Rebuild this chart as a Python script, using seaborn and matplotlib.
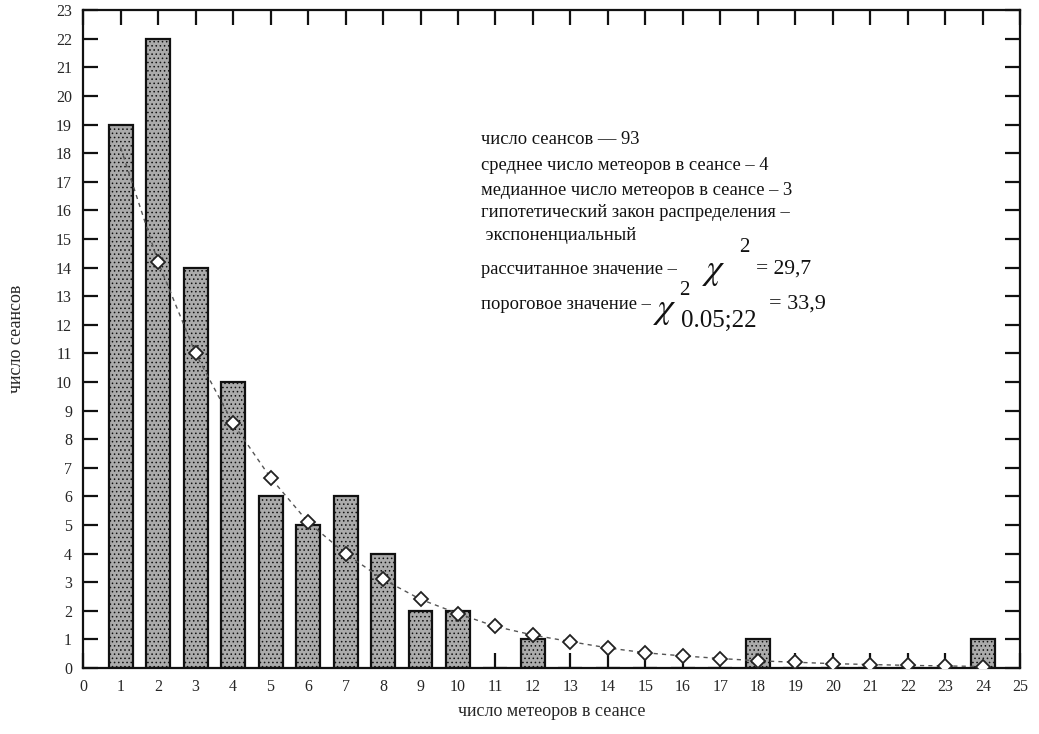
import numpy as np
import pandas as pd
import matplotlib
matplotlib.use("Agg")
import matplotlib.pyplot as plt
import seaborn as sns

# Observed sessions per meteor count
meteors = list(range(1, 25))
sessions = [19, 22, 14, 10, 6, 5, 6, 4, 2, 2, 0, 1, 0, 0, 0, 0, 0, 1, 0, 0, 0, 0, 0, 1]
# Expected counts under the exponential law
expected = [18.2, 14.2, 11.0, 8.55, 6.65, 5.1, 4.0, 3.1, 2.4, 1.9, 1.45, 1.15,
            0.92, 0.7, 0.53, 0.42, 0.33, 0.25, 0.2, 0.15, 0.12, 0.09, 0.07, 0.05]

x_ticks = list(range(0, 26))
y_ticks = list(range(0, 24))

info_lines = [
    "число сеансов — 93",
    "среднее число метеоров в сеансе – 4",
    "медианное число метеоров в сеансе – 3",
    "гипотетический закон распределения –",
    " экспоненциальный",
]

sns.set_theme(style="white")
plt.rcParams["font.family"] = ["Liberation Serif", "DejaVu Serif"]
plt.rcParams["mathtext.fontset"] = "stix"
plt.rcParams["hatch.color"] = "#5e5e5e"

df = pd.DataFrame({"m": meteors, "n": sessions, "e": expected})

fig = plt.figure(figsize=(10.39, 7.34), dpi=100)
ax = fig.add_axes([0.080, 0.090, 0.902, 0.896])

sns.barplot(data=df, x="m", y="n", native_scale=True, width=0.64,
            color="#ababab", edgecolor="#111111", linewidth=1.6,
            saturation=1, ax=ax, zorder=2)
for p in ax.patches:
    p.set_hatch("....")
    p.set_hatch_linewidth(0.6)

sns.lineplot(data=df, x="m", y="e", ax=ax, color="#555555", linewidth=1.0,
             linestyle=(0, (3, 3)), marker="D", markersize=7,
             markevery=list(range(1, len(meteors))),
             markerfacecolor="white", markeredgecolor="#222222",
             markeredgewidth=1.3, zorder=3)

ax.set_xlim(0, 25)
ax.set_ylim(0, 23)
ax.set_xticks(x_ticks)
ax.set_xticklabels([str(v) for v in x_ticks], fontsize=11.5)
ax.set_yticks(y_ticks)
ax.set_yticklabels([str(v) for v in y_ticks], fontsize=11.5)
ax.tick_params(axis="both", which="major", direction="in", length=11, width=1.6,
               top=True, right=True, bottom=True, left=True, color="#111111",
               pad=8)
for s in ax.spines.values():
    s.set_visible(True)
    s.set_color("#111111")
    s.set_linewidth(1.6)

ax.set_xlabel("число метеоров в сеансе", fontsize=13, labelpad=6)
ax.set_ylabel("число сеансов", fontsize=13, labelpad=22)

tc = "#111111"
ty = [18.48, 17.57, 16.7, 15.92, 15.12]
for t, y in zip(info_lines, ty):
    ax.text(10.62, y, t, fontsize=13.3, va="center", ha="left", color=tc)

# calculated statistic
ax.text(10.62, 13.95, "рассчитанное значение –", fontsize=13.3, va="center",
        ha="left", color=tc)
ax.text(16.5, 13.85, r"$\chi$", fontsize=26, va="center", ha="left", color=tc)
ax.text(17.5, 14.7, "2", fontsize=15, va="center", ha="left", color=tc)
ax.text(17.95, 13.95, "= 29,7", fontsize=15.5, va="center", ha="left", color=tc)

# critical value
ax.text(10.62, 12.72, "пороговое значение –", fontsize=13.3, va="center",
        ha="left", color=tc)
ax.text(15.2, 12.5, r"$\chi$", fontsize=26, va="center", ha="left", color=tc)
ax.text(15.9, 13.2, "2", fontsize=15, va="center", ha="left", color=tc)
ax.text(15.95, 12.15, "0.05;22", fontsize=18, va="center", ha="left", color=tc)
ax.text(18.3, 12.73, "= 33,9", fontsize=16, va="center", ha="left", color=tc)

fig.savefig("out.png", dpi=100)
